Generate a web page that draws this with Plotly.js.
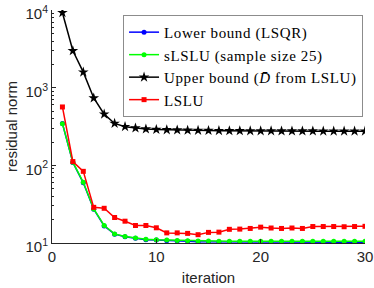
<!DOCTYPE html>
<html><head><meta charset="utf-8">
<script src="https://cdn.plot.ly/plotly-3.0.1.min.js"></script>
<style>html,body{margin:0;padding:0;background:#fff}#plot{width:374px;height:288px}
.legendtext{letter-spacing:0.6px}</style>
</head><body><div id="plot"></div>
<script>
const iterations = Array.from({length:30},(_,i)=>i+1);
const lowerLSQR = [347,109,59.6,27.2,16.6,13.0,12.0,11.5,11.0,10.9,10.7,10.6,10.5,10.4,10.4,10.3,10.3,10.3,10.2,10.2,10.2,10.2,10.2,10.2,10.2,10.2,10.2,10.2,10.2,10.2];
const sLSLU = [345,110,60.5,27.5,16.8,13.1,12.1,11.6,11.2,11.0,10.9,10.8,10.7,10.6,10.6,10.5,10.5,10.5,10.5,10.5,10.5,10.5,10.5,10.5,10.5,10.5,10.5,10.5,10.5,10.5];
const upperBound = [9270,3000,1590,738,457,347,315,303,294,290,287,285,283,282,281,280,279,279,278,278,278,277,277,277,277,276,276,276,276,276];
const lslu = [566,112,83.8,28.8,28.0,21.3,19.1,16.8,16.8,15.7,13.5,13.5,13.3,12.8,13.7,13.8,15.0,15.1,15.4,16.0,15.6,15.4,15.6,15.4,16.3,16.3,16.3,16.2,16.3,16.4];
const names = ['Lower bound (LSQR)','sLSLU (sample size 25)','Upper bound (<i>D\u0304</i> from LSLU)','LSLU'];
const yTicks = [10,100,1000,10000];
const yTickText = ['10<sup>1</sup>','10<sup>2</sup>','10<sup>3</sup>','10<sup>4</sup>'];
const xTicks = [0,10,20,30];

const minorVals = [];
for (const d of [10,100,1000]) for (let k=2;k<=9;k++) minorVals.push(k*d);

const traces = [
 {x:iterations,y:lowerLSQR,name:names[0],mode:'lines+markers',line:{color:'#0000ff',width:1.5},marker:{symbol:'circle',size:5,color:'#0000ff'}},
 {x:iterations,y:sLSLU,name:names[1],mode:'lines+markers',line:{color:'#00ff00',width:1.5},marker:{symbol:'circle',size:5,color:'#00ff00'}},
 {x:iterations,y:upperBound,name:names[2],mode:'lines+markers',line:{color:'#000000',width:1.5},marker:{symbol:'star',size:8,color:'#000000'}},
 {x:iterations,y:lslu,name:names[3],mode:'lines+markers',line:{color:'#ff0000',width:1.5},marker:{symbol:'square',size:5,color:'#ff0000'}}
];
const axFont = {family:'Liberation Sans',size:15,color:'#262626'};
const layout = {
 width:374,height:288,
 margin:{l:52,r:9,t:10,b:45},
 paper_bgcolor:'#fff',plot_bgcolor:'#fff',
 showlegend:true,
 legend:{x:0.227,y:0.979,xanchor:'left',yanchor:'top',bgcolor:'#fff',bordercolor:'#8c8c8c',borderwidth:1,
   font:{family:'Liberation Serif',size:15,color:'#000'},tracegroupgap:0,itemwidth:30},
 xaxis:{range:[0,30],tickvals:xTicks,ticks:'inside',ticklen:4,tickcolor:'#262626',showgrid:false,zeroline:false,
   showline:true,linecolor:'#262626',linewidth:1,tickfont:axFont,
   title:{text:'iteration',font:axFont,standoff:8}},
 yaxis:{type:'log',range:[1,4.002],tickvals:yTicks,ticktext:yTickText,ticks:'inside',ticklen:4,tickcolor:'#262626',showgrid:false,zeroline:false,
   showline:true,linecolor:'#262626',linewidth:1,tickfont:axFont,ticklabeloverflow:'allow',ticklabelshift:4,
   minor:{tickvals:minorVals,ticks:'inside',ticklen:2,tickcolor:'#262626',showgrid:false},
   title:{text:'residual norm',font:axFont,standoff:4}}
};
Plotly.newPlot('plot',traces,layout,{displayModeBar:false,staticPlot:true});
</script></body></html>
